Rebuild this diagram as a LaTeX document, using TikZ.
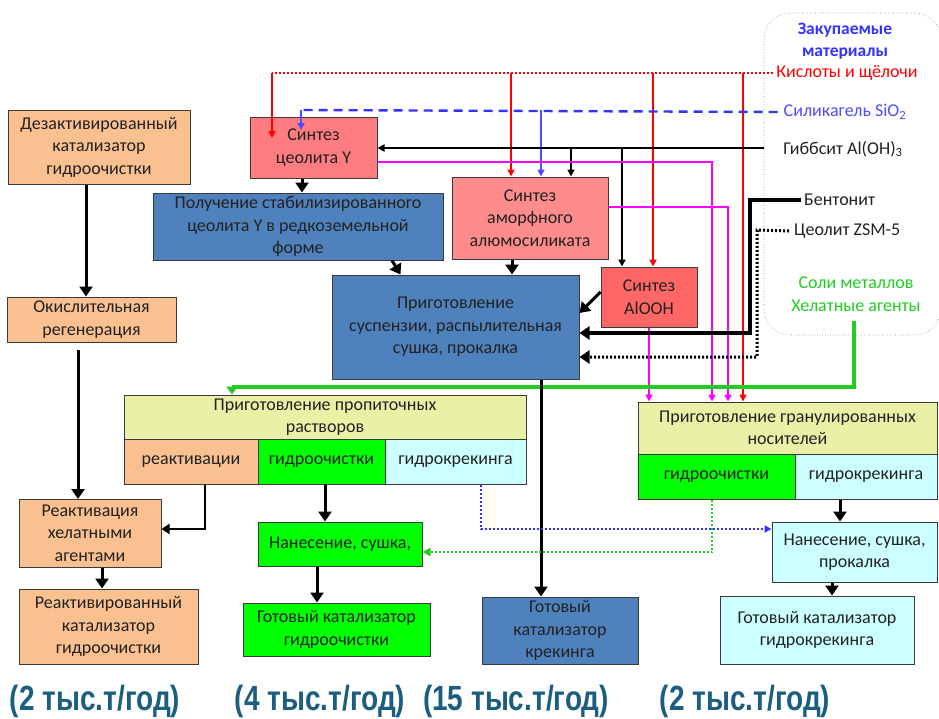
\documentclass[tikz,border=0pt]{standalone}
\usepackage{fontspec}
\setmainfont{Carlito}
\newfontfamily\capf[FakeStretch=0.8]{Liberation Sans}
\usetikzlibrary{arrows.meta,calc}
\definecolor{peach}{HTML}{FAC090}
\definecolor{bluebox}{HTML}{4F81BD}
\definecolor{zeored}{HTML}{FF7C80}
\definecolor{amored}{HTML}{FF8C8C}
\definecolor{alored}{HTML}{FF6666}
\definecolor{hdr}{HTML}{EAF1A6}
\definecolor{grn}{HTML}{00FF00}
\definecolor{cyn}{HTML}{CCFFFF}
\definecolor{boxline}{HTML}{3A3A3A}
\definecolor{txt}{HTML}{222222}
\definecolor{mag}{HTML}{FF00FF}
\definecolor{redl}{HTML}{FF0000}
\definecolor{bluel}{HTML}{3333FF}
\definecolor{bluel2}{HTML}{4D4DFF}
\definecolor{greenl}{HTML}{22CC22}
\definecolor{teal}{HTML}{1B5E80}
\begin{document}
\begin{tikzpicture}[x=1pt,y=-1pt,
  box/.style={draw=boxline, line width=1pt, inner sep=2pt, align=center,
    font=\fontsize{18}{22.5}\selectfont, text=txt},
  bigarr/.style={line width=3pt, -{Triangle[width=13pt,length=10pt]}},
  thinarr/.style={line width=1.8pt, -{Triangle[width=7pt,length=7pt]}},
  legtxt/.style={font=\fontsize{18}{22.5}\selectfont, inner sep=0pt},
  captxt/.style={font=\capf\bfseries\fontsize{35}{38}\selectfont, text=teal}]
\useasboundingbox (0,0) rectangle (939,718);

% legend frame
\draw[gray, line width=0.6pt, dotted, rounded corners=26] (764,13) rectangle (941,335);
\node[legtxt, text=bluel, font=\bfseries\fontsize{17.5}{22}\selectfont, align=center] (leg) at (845,41) {Закупаемые\\материалы};
\node[legtxt, text=redl] (kisl) at (847,73) {Кислоты и щёлочи};
\node[legtxt, text=bluel2] (sil) at (845,112) {Силикагель SiO\textsubscript{2}};
\node[legtxt, text=txt] (gib) at (843,149) {Гиббсит Al(OH)\textsubscript{3}};
\node[legtxt, text=txt, anchor=west] (bent) at (804,200) {Бентонит};
\node[legtxt, text=txt, anchor=west] (zsm) at (794,231) {Цеолит ZSM-5};
\node[legtxt, text=greenl, align=center, font=\fontsize{18}{23}\selectfont] (salt) at (856,294) {Соли металлов\\Хелатные агенты};

% boxes
\node[box, fill=peach, minimum width=182, minimum height=74] (deact) at (99,147) {Дезактивированный\\катализатор\\гидроочистки};
\node[box, fill=peach, minimum width=169, minimum height=45] (oxid) at (91.5,319.5) {Окислительная\\регенерация};
\node[box, fill=peach, minimum width=142, minimum height=68] (react) at (90,533) {Реактивация\\хелатными\\агентами};
\node[box, fill=peach, minimum width=179, minimum height=75] (reactd) at (108.5,626.5) {Реактивированный\\катализатор\\гидроочистки};

\node[box, fill=zeored, minimum width=127, minimum height=61] (zeoY) at (313.5,147.5) {Синтез\\цеолита Y};
\node[box, fill=bluebox, minimum width=290, minimum height=67] (stab) at (298,226.5) {Получение стабилизированного\\цеолита Y в редкоземельной\\форме};
\node[box, fill=amored, minimum width=156, minimum height=82] (amorph) at (530,218) {Синтез\\аморфного\\алюмосиликата};
\node[box, fill=bluebox, minimum width=247, minimum height=104] (susp) at (455.5,327) {Приготовление\\суспензии, распылительная\\сушка, прокалка};
\node[box, fill=alored, minimum width=96, minimum height=60] (alooh) at (649,297) {Синтез\\AlOOH};

\node[box, fill=hdr, minimum width=402, minimum height=44] (impH) at (325,417) {Приготовление пропиточных\\растворов};
\node[box, fill=peach, minimum width=134, minimum height=45] (impR) at (191,461.5) {реактивации};
\node[box, fill=grn, minimum width=127, minimum height=45] (impG) at (321.5,461.5) {гидроочистки};
\node[box, fill=cyn, minimum width=141, minimum height=45] (impC) at (455.5,461.5) {гидрокрекинга};
\node[box, fill=grn, minimum width=164, minimum height=44] (nan1) at (340,544) {Нанесение, сушка,};
\node[box, fill=grn, minimum width=187, minimum height=53] (gotG) at (336.5,629.5) {Готовый катализатор\\гидроочистки};
\node[box, fill=bluebox, minimum width=156, minimum height=67] (gotK) at (560,630.5) {Готовый\\катализатор\\крекинга};

\node[box, fill=hdr, minimum width=299, minimum height=52] (granH) at (787.5,428) {Приготовление гранулированных\\носителей};
\node[box, fill=grn, minimum width=157, minimum height=45] (granG) at (716.5,476.5) {гидроочистки};
\node[box, fill=cyn, minimum width=142, minimum height=45] (granC) at (866,476.5) {гидрокрекинга};
\node[box, fill=cyn, minimum width=165, minimum height=60] (nan2) at (854.5,552) {Нанесение, сушка,\\прокалка};
\node[box, fill=cyn, minimum width=194, minimum height=68] (gotH) at (817,630) {Готовый катализатор\\гидрокрекинга};

% helper coordinates
\coordinate (r1) at (272,73);
\coordinate (r1e) at (272,138);
\coordinate (r2) at (511,73);
\coordinate (r3) at (653,73);
\coordinate (r4) at (743,73);
\coordinate (b1) at (301,110);
\coordinate (b1e) at (301,130);
\coordinate (b2) at (541,110);
\coordinate (g0) at (764,148);
\coordinate (g1) at (571,148);
\coordinate (g2) at (622,148);
\coordinate (m1) at (712,162);
\coordinate (m2) at (728,207);
\coordinate (be1) at (750,200);
\coordinate (be2) at (750,333);
\coordinate (z1) at (757,230);
\coordinate (z2) at (757,357);
\coordinate (gr0) at (854,321);
\coordinate (gr1) at (854,387);
\coordinate (gr2) at (232,387);

% purchased materials lines
\draw[redl, line width=2pt, dash pattern=on 2pt off 2pt] ([xshift=-3]kisl.west) -- (r1);
\draw[redl, thinarr] (r1) -- (r1e);
\draw[redl, thinarr] (r2) -- (r2 |- amorph.north);
\draw[redl, thinarr] (r3) -- (r3 |- alooh.north);
\draw[redl, thinarr] (r4) -- (r4 |- granH.north);

\draw[bluel, line width=2.4pt, dash pattern=on 9pt off 6pt] ([xshift=-6]sil.west) -- (b1);
\draw[bluel2, thinarr] (b1) -- (b1e);
\draw[bluel2, thinarr] (b2) -- (b2 |- amorph.north);

\draw[black, thinarr] (g0) -- (g0 -| zeoY.east);
\draw[black, thinarr] (g1) -- (g1 |- amorph.north);
\draw[black, thinarr] (g2) -- (g2 |- alooh.north);

\draw[mag, thinarr] (m1 -| zeoY.east) -- (m1) -- (m1 |- granH.north);
\draw[mag, thinarr] (m2 -| amorph.east) -- (m2) -- (m2 |- granH.north);
\draw[mag, thinarr] (alooh.south) -- (alooh.south |- granH.north);

\draw[black, line width=3.5pt, -{Triangle[width=13pt,length=10pt]}] ([xshift=-3]bent.west) -- (be1) -- (be2) -- (be2 -| susp.east);
\draw[black, line width=3pt, dash pattern=on 2pt off 2pt] ([xshift=-5]zsm.west) -- (z1) -- (z2) -- ([xshift=-14]z2 -| alooh.west);
\draw[black, line width=3pt, -{Triangle[width=13pt,length=10pt]}] ([xshift=-14]z2 -| alooh.west) -- (z2 -| susp.east);

\draw[greenl, line width=3.5pt, -{Triangle[width=11pt,length=8pt]}] (gr0) -- (gr1) -- (gr2) -- (gr2 |- impH.north);

% process arrows
\draw[bigarr] ([xshift=-13]deact.south) -- ([xshift=-13]deact.south |- oxid.north);
\draw[bigarr] (78,350) -- (78,499) coordinate (reactTop);
\draw[bigarr] ([xshift=12]react.south) -- ([xshift=12]react.south |- reactd.north);
\draw[line width=2.4pt, -{Triangle[width=10pt,length=8pt]}] ([xshift=14]impR.south) |- ([yshift=4]react.east);
\draw[bigarr] ([xshift=-11.5]zeoY.south) -- ([xshift=-11.5]zeoY.south |- stab.north);
\draw[bigarr] ([xshift=94]stab.south) -- ([xshift=-55]susp.north);
\draw[bigarr] ([xshift=-18]amorph.south) -- ([xshift=-18]amorph.south |- susp.north);
\draw[bigarr] ([yshift=5]alooh.west) -- ([yshift=14]susp.east);
\draw[bigarr] ([xshift=85.5]susp.south) -- ([xshift=85.5]susp.south |- gotK.north);
\draw[bigarr] ([xshift=3.5]impG.south) -- ([xshift=3.5]impG.south |- nan1.north);
\draw[bigarr] ([xshift=-23]nan1.south) -- ([xshift=-23]nan1.south |- gotG.north);
\draw[bigarr] ([xshift=-26]granC.south) -- ([xshift=-26]granC.south |- nan2.north);
\draw[bigarr] ([xshift=-22.5]nan2.south) -- ([xshift=-22.5]nan2.south |- gotH.north);

\draw[bluel, line width=2pt, dash pattern=on 2pt off 2pt, -{Triangle[width=7pt,length=7pt]}] ([xshift=25.5]impC.south) |- ([yshift=23]nan2.west);
\draw[greenl, line width=2pt, dash pattern=on 2pt off 2pt, -{Triangle[width=8pt,length=8pt]}] ([xshift=-4.5]granG.south) |- ([yshift=-8]nan1.east);

% capacities
\node[captxt] (c1) at (95,701) {(2 тыс.т/год)};
\node[captxt] (c2) at (320,701) {(4 тыс.т/год)};
\node[captxt] (c3) at (516,701) {(15 тыс.т/год)};
\node[captxt] (c4) at (745,701) {(2 тыс.т/год)};
\end{tikzpicture}
\end{document}
